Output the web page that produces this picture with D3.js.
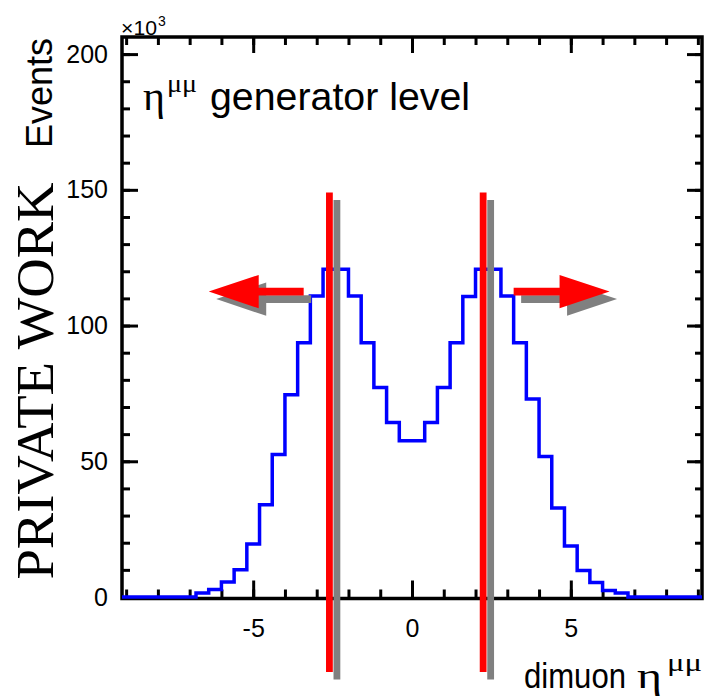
<!DOCTYPE html>
<html><head><meta charset="utf-8">
<script src="https://cdn.jsdelivr.net/npm/d3@7"></script>
<style>html,body{margin:0;padding:0;background:#fff;} svg{display:block}</style>
</head><body><svg id="c" width="707" height="697"></svg>
<script>
// ---- data ----
const binEdges = [-9.2,-8.8,-8.4,-8.0,-7.6,-7.2,-6.8,-6.4,-6.0,-5.6,-5.2,-4.8,-4.4,-4.0,-3.6,-3.2,-2.8,-2.4,-2.0,-1.6,-1.2,-0.8,-0.4,0,0.4,0.8,1.2,1.6,2.0,2.4,2.8,3.2,3.6,4.0,4.4,4.8,5.2,5.6,6.0,6.4,6.8,7.2,7.6,8.0,8.4,8.8,9.2];
const binCounts = [0,0,0,0,0,0,1.5,2.8,5.5,10,19.5,34,52.5,74.5,93.7,110.9,120.7,120.7,110.9,93.7,77.2,64.3,57.6,57.6,64.3,77.2,93.7,110.7,120.7,120.7,110.9,93.7,72.9,51.8,32.8,18.8,9.8,5.3,2.4,1.5,0,0,0,0,0,0];
const xMajorTicks = [-5,0,5];
const xMinorTicks = [-9,-8,-7,-6,-5,-4,-3,-2,-1,0,1,2,3,4,5,6,7,8,9];
const yMajorTicks = [0,50,100,150,200];
const yMinorTicks = [0,10,20,30,40,50,60,70,80,90,100,110,120,130,140,150,160,170,180,190,200];
const cutLines = [-2.6, 2.24];
const cutLineSpan = [-27.6, 149];
const arrows = [{tail:-3.41, tip:-6.40, y:112.5},{tail:3.20, tip:6.22, y:112.5}];
const xDomain = [-9.13, 9.13];
const yDomain = [0, 206.3];

// ---- layout ----
const L = 122, R = 702, T = 37, B = 598.5;
const svg = d3.select('#c');
const x = d3.scaleLinear().domain(xDomain).range([L, R]);
const y = d3.scaleLinear().domain(yDomain).range([597, T]);
const SANS = 'Liberation Sans, Arial, Helvetica, sans-serif';
const SERIF = 'Liberation Serif, Times New Roman, serif';
const SH = 7.5; // shadow offset

svg.append('defs').append('clipPath').attr('id','pc')
  .append('rect').attr('x',L).attr('y',T).attr('width',R-L).attr('height',B-T+2);

function styleAxis(g){
  g.select('.domain').remove();
  g.selectAll('.tick line').attr('stroke','#000').attr('stroke-width',3);
  g.selectAll('.tick text').attr('fill','#000').style('font-family',SANS).style('font-size','25px');
}
svg.append('g').attr('transform',`translate(0,${B})`)
  .call(d3.axisBottom(x).tickValues(xMinorTicks).tickSize(-9).tickFormat('')).call(styleAxis);
svg.append('g').attr('transform',`translate(0,${B})`)
  .call(d3.axisBottom(x).tickValues(xMajorTicks).tickSize(-18).tickPadding(21).tickFormat(d=>String(d))).call(styleAxis);
svg.append('g').attr('transform',`translate(0,${T})`)
  .call(d3.axisTop(x).tickValues(xMinorTicks).tickSize(-8).tickFormat('')).call(styleAxis);
svg.append('g').attr('transform',`translate(0,${T})`)
  .call(d3.axisTop(x).tickValues(xMajorTicks).tickSize(-16).tickFormat('')).call(styleAxis);
svg.append('g').attr('transform',`translate(${L},0)`)
  .call(d3.axisLeft(y).tickValues(yMinorTicks).tickSize(-8).tickFormat('')).call(styleAxis);
svg.append('g').attr('transform',`translate(${L},0)`)
  .call(d3.axisLeft(y).tickValues(yMajorTicks).tickSize(-16).tickPadding(14).tickFormat(d=>String(d))).call(styleAxis);
svg.append('g').attr('transform',`translate(${R},0)`)
  .call(d3.axisRight(y).tickValues(yMinorTicks).tickSize(-7).tickFormat('')).call(styleAxis);
svg.append('g').attr('transform',`translate(${R},0)`)
  .call(d3.axisRight(y).tickValues(yMajorTicks).tickSize(-15).tickFormat('')).call(styleAxis);

svg.append('rect').attr('x',L).attr('y',T).attr('width',R-L).attr('height',B-T)
  .attr('fill','none').attr('stroke','#000').attr('stroke-width',3.5);

// histogram
const pts = binCounts.map((v,i)=>[binEdges[i], v]);
pts.push([binEdges[binEdges.length-1], binCounts[binCounts.length-1]]);
const line = d3.line().x(d=>x(d[0])).y(d=>y(d[1])).curve(d3.curveStepAfter);
svg.append('path').attr('clip-path','url(#pc)').attr('d',line(pts))
  .attr('fill','none').attr('stroke','#0000ff').attr('stroke-width',3.5);

// cut lines and arrows with shadows
function arrowPath(a, dx, dy){
  const tx = x(a.tail)+dx, px = x(a.tip)+dx, cy = y(a.y)+dy;
  const dir = Math.sign(px - tx);
  const hb = px - dir*50;
  const sw = 3.9, hw = 16.7;
  return `M${tx},${cy-sw}L${hb},${cy-sw}L${hb},${cy-hw}L${px},${cy}L${hb},${cy+hw}L${hb},${cy+sw}L${tx},${cy+sw}Z`;
}
[['#808080',SH],['#ff0000',0]].forEach(([col,off])=>{
  svg.selectAll(null).data(cutLines).enter().append('line')
    .attr('x1',d=>x(d)+off).attr('x2',d=>x(d)+off)
    .attr('y1',y(cutLineSpan[1])+off).attr('y2',y(cutLineSpan[0])+off)
    .attr('stroke',col).attr('stroke-width',6.8);
  svg.selectAll(null).data(arrows).enter().append('path')
    .attr('d',d=>arrowPath(d,off,off)).attr('fill',col);
});

// texts
svg.append('text').attr('x',121).attr('y',35).attr('textLength',36).attr('lengthAdjust','spacingAndGlyphs')
  .style('font-family',SANS).style('font-size','20px').text('×10');
svg.append('text').attr('x',158).attr('y',26).style('font-family',SANS).style('font-size','14px').text('3');

svg.append('text').attr('x',143).attr('y',110).attr('textLength',22).attr('lengthAdjust','spacingAndGlyphs')
  .style('font-family',SERIF).style('font-size','42px').text('η');
svg.append('text').attr('x',167).attr('y',92).attr('textLength',30).attr('lengthAdjust','spacingAndGlyphs')
  .style('font-family',SERIF).style('font-size','26px').text('μμ');
svg.append('text').attr('x',210).attr('y',110).attr('textLength',260).attr('lengthAdjust','spacingAndGlyphs')
  .style('font-family',SANS).style('font-size','38px').text('generator level');

svg.append('text').attr('x',524).attr('y',688).attr('textLength',102).attr('lengthAdjust','spacingAndGlyphs')
  .style('font-family',SANS).style('font-size','35px').text('dimuon');
svg.append('text').attr('x',637).attr('y',688).attr('textLength',25).attr('lengthAdjust','spacingAndGlyphs')
  .style('font-family',SERIF).style('font-size','36px').text('η');
svg.append('text').attr('x',667).attr('y',671).attr('textLength',35).attr('lengthAdjust','spacingAndGlyphs')
  .style('font-family',SERIF).style('font-size','26px').text('μμ');

svg.append('text').attr('transform','translate(52,38) rotate(-90)').attr('text-anchor','end')
  .style('font-family',SANS).style('font-size','36px').text('Events');

svg.append('text').attr('transform','translate(53,381) rotate(-90)').attr('text-anchor','middle')
  .attr('textLength',397).attr('lengthAdjust','spacingAndGlyphs')
  .style('font-family',SERIF).style('font-size','53px').text('PRIVATE WORK');
</script></body></html>
